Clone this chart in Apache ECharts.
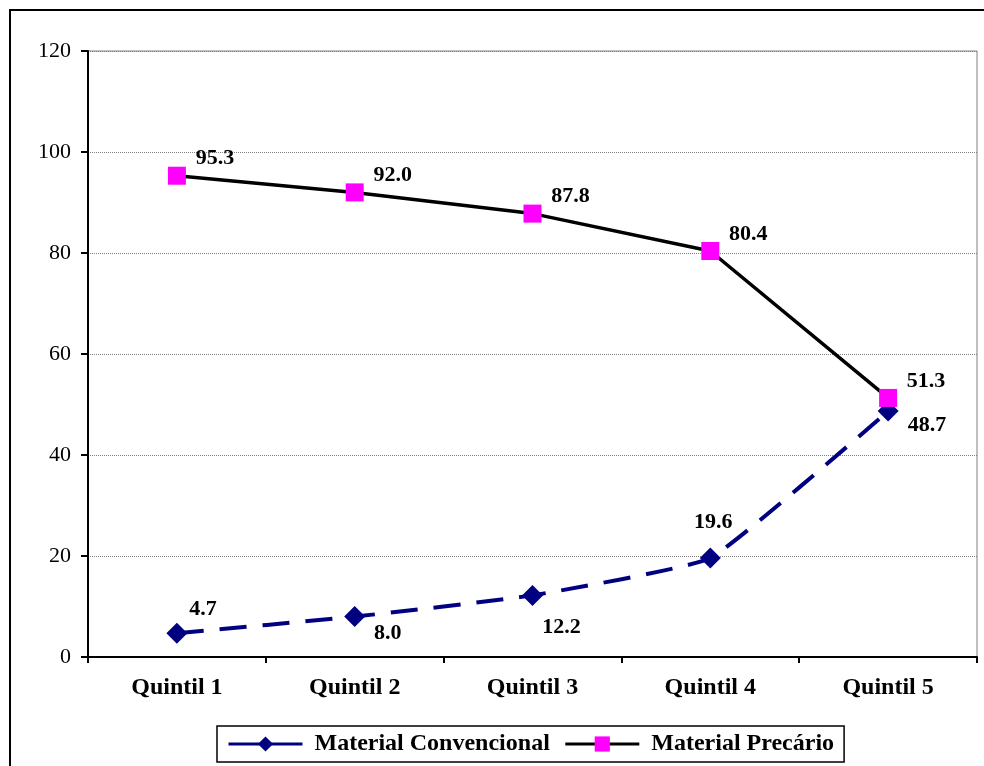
<!DOCTYPE html>
<html>
<head>
<meta charset="utf-8">
<script src="https://cdn.jsdelivr.net/npm/echarts@6/dist/echarts.min.js"></script>
<style>
  html, body { margin: 0; padding: 0; background: #fff; }
  #chart { width: 984px; height: 766px; }
</style>
</head>
<body>
<div id="chart"></div>
<script>
// categories and values
const quintis = ['Quintil 1', 'Quintil 2', 'Quintil 3', 'Quintil 4', 'Quintil 5']
const convencional = [4.7, 8.0, 12.2, 19.6, 48.7]
const precario = [95.3, 92.0, 87.8, 80.4, 51.3]
const yTicks = [0, 20, 40, 60, 80, 100, 120]

// label offsets for the dashed series, point by point
const convOffsets = [[26, -24], [33, 17], [29, 32], [3, -36], [39, 14]]

const serif = '"Liberation Serif", "Times New Roman", serif'

const labelStyle = {
  show: true,
  position: 'inside',
  fontFamily: serif,
  fontWeight: 'bold',
  fontSize: 22,
  color: '#000',
  formatter: p => p.value.toFixed(1)
}

const chart = echarts.init(document.getElementById('chart'))
chart.setOption({
  animation: false,
  backgroundColor: '#fff',
  graphic: [{
    // outer frame of the picture
    type: 'rect',
    shape: { x: 10, y: 10, width: 1000, height: 800 },
    style: { fill: 'none', stroke: '#000', lineWidth: 2 },
    z: -1
  }],
  grid: {
    left: 88,
    right: 7,
    top: 51,
    bottom: 109,
    show: true,
    borderColor: '#808080',
    borderWidth: 1
  },
  legend: {
    left: 217,
    top: 726,
    itemWidth: 74,
    itemHeight: 19,
    itemGap: 14,
    padding: [6, 10, 6, 10],
    borderColor: '#000',
    borderWidth: 1.5,
    borderRadius: 0,
    textStyle: {
      fontFamily: serif, fontWeight: 'bold', fontSize: 24, color: '#000',
      padding: [0, 0, 0, 7]
    },
    data: [
      { name: 'Material Convencional', lineStyle: { width: 3, type: 'solid' } },
      { name: 'Material Precário', lineStyle: { width: 3 } }
    ]
  },
  xAxis: {
    type: 'category',
    data: quintis,
    axisLine: { lineStyle: { color: '#000', width: 2 } },
    axisTick: { show: true, length: 6, lineStyle: { color: '#000', width: 2 } },
    axisLabel: { fontFamily: serif, fontWeight: 'bold', fontSize: 24, color: '#000', margin: 19 }
  },
  yAxis: {
    type: 'value',
    min: yTicks[0],
    max: yTicks[yTicks.length - 1],
    interval: 20,
    axisLine: { show: true, lineStyle: { color: '#000', width: 2 } },
    axisTick: { show: true, length: 7, lineStyle: { color: '#000', width: 2 } },
    axisLabel: { fontFamily: serif, fontSize: 22, color: '#000', margin: 17 },
    splitLine: { lineStyle: { color: '#808080', type: 'dotted', width: 1 } }
  },
  series: [
    {
      name: 'Material Convencional',
      type: 'line',
      data: convencional.map((v, i) => ({
        value: v,
        label: Object.assign({}, labelStyle, { offset: convOffsets[i] })
      })),
      smooth: 0.12,
      symbol: 'diamond',
      symbolSize: 21,
      itemStyle: { color: '#000080' },
      lineStyle: { color: '#000080', width: 4, type: [27, 16] },
      z: 2
    },
    {
      name: 'Material Precário',
      type: 'line',
      data: precario,
      symbol: 'rect',
      symbolSize: 18,
      itemStyle: { color: '#ff00ff' },
      lineStyle: { color: '#000', width: 3.5 },
      label: Object.assign({}, labelStyle, { offset: [38, -17] }),
      z: 3
    }
  ]
})
</script>
</body>
</html>
